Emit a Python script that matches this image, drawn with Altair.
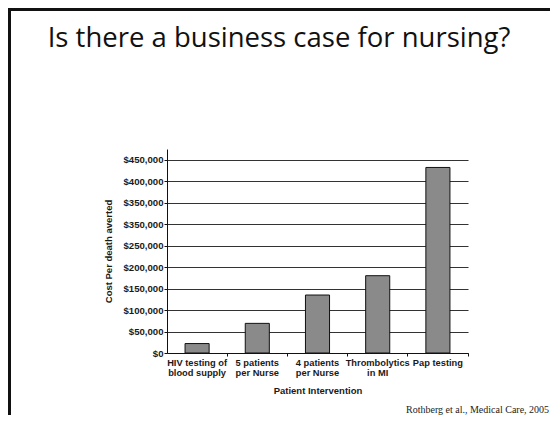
import altair as alt
import pandas as pd

categories = ["HIV testing of|blood supply", "5 patients|per Nurse", "4 patients|per Nurse",
              "Thrombolytics|in MI", "Pap testing"]
costs = [22000, 69000, 135000, 180000, 432000]
y_ticks = [0, 50000, 100000, 150000, 200000, 250000, 300000, 350000, 400000, 450000]
y_tick_labels = ["$0", "$50,000", "$100,000", "$150,000", "$200,000", "$250,000",
                 "$350,000", "$350,000", "$400,000", "$450,000"]
slide_title = "Is there a business case for nursing?"
citation = "Rothberg et al., Medical Care, 2005"

df = pd.DataFrame({"cat": categories, "cost": costs})

W, H = 301, 204
PL, PT = 159, 141
TOTAL_W, TOTAL_H = 542, 407

label_arr = "[" + ",".join("'" + s + "'" for s in y_tick_labels) + "]"

bars = alt.Chart(df).mark_bar(
    width=alt.RelativeBandSize(0.4), color="#8a8a8a", stroke="#111", strokeWidth=1
).encode(
    x=alt.X("cat:N", sort=categories, title="Patient Intervention",
            scale=alt.Scale(paddingInner=0, paddingOuter=0),
            axis=alt.Axis(labelAngle=0, bandPosition=1, tickSize=3,
                          labelPadding=2, labelExpr="split(datum.label, '|')",
                          labelOverlap=False, labelBound=False, labelLineHeight=10.5,
                          labelFont="Liberation Sans", labelFontWeight="bold", labelFontSize=9.3,
                          labelColor="#1a1a1a", titleFont="Liberation Sans", titleFontWeight="bold",
                          titleFontSize=9.5, titleColor="#1a1a1a", titlePadding=8,
                          domainColor="#111", tickColor="#111", grid=False)),
    y=alt.Y("cost:Q", title="Cost Per death averted",
            scale=alt.Scale(domain=[0, 475000], nice=False),
            axis=alt.Axis(values=y_ticks, labelExpr=label_arr + "[round(datum.value/50000)]",
                          tickSize=3, labelPadding=1, grid=True, gridColor="#333", gridWidth=1,
                          labelFont="Liberation Sans", labelFontWeight="bold", labelFontSize=9.6,
                          labelColor="#1a1a1a", titleFont="Liberation Sans", titleFontWeight="bold",
                          titleFontSize=9.5, titleColor="#1a1a1a", titlePadding=9,
                          domainColor="#111", tickColor="#111")),
)

title_df = pd.DataFrame({"t": [slide_title]})
title_txt = alt.Chart(title_df).mark_text(
    font="Open Sans", fontSize=27.5, align="center", baseline="alphabetic", color="#111"
).encode(x=alt.value(279 - 167), y=alt.value(47 - 149), text="t:N")

cite_df = pd.DataFrame({"t": [citation]})
cite_txt = alt.Chart(cite_df).mark_text(
    font="Liberation Serif", fontSize=10, align="left", baseline="alphabetic", color="#222"
).encode(x=alt.value(406 - 167), y=alt.value(413 - 149), text="t:N")

frame_df = pd.DataFrame({"k": [0]})
left_rule = alt.Chart(frame_df).mark_rule(color="#111", strokeWidth=3).encode(
    x=alt.value(1.5 - PL), y=alt.value(-PT), y2=alt.value(TOTAL_H - PT))
top_rule = alt.Chart(frame_df).mark_rule(color="#111", strokeWidth=3).encode(
    x=alt.value(-PL), x2=alt.value(TOTAL_W - PL), y=alt.value(1.5 - PT))

chart = alt.layer(bars, title_txt, cite_txt, left_rule, top_rule).properties(
    width=W, height=H,
    autosize=alt.AutoSizeParams(type="none"),
    padding={"left": PL, "top": PT, "right": TOTAL_W - PL - W, "bottom": TOTAL_H - PT - H},
    background="white",
).configure_view(stroke=None)

chart.save("out.html", embed_options={"renderer": "svg", "actions": False})
